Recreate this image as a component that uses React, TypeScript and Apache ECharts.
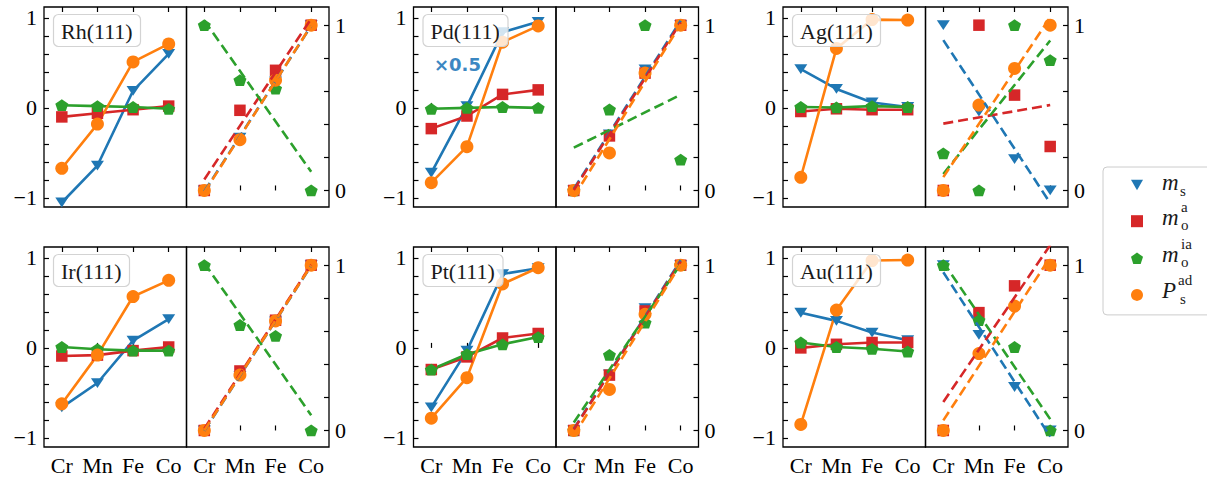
import React, { useEffect, useRef } from 'react';
import * as echarts from 'echarts';

// ---------------- data ----------------
const categories = ['Cr', 'Mn', 'Fe', 'Co'];
const surfaces = ['Rh(111)', 'Pd(111)', 'Ag(111)', 'Ir(111)', 'Pt(111)', 'Au(111)'];

const leftTicks = [-1, -0.8, -0.6, -0.4, -0.2, 0, 0.2, 0.4, 0.6, 0.8, 1];
const leftLabels = [-1, 0, 1];
const rightTicks = [0, 0.2, 0.4, 0.6, 0.8, 1];
const rightLabels = [0, 1];

// raw values (left sub-panels), order: Rh, Pd, Ag, Ir, Pt, Au
const msRaw = [
  [-1.05, -0.64, 0.19, 0.6],
  [-0.72, 0.02, 0.84, 0.955],
  [0.43, 0.21, 0.06, 0.01],
  [-0.66, -0.39, 0.08, 0.32],
  [-0.66, -0.03, 0.82, 0.885],
  [0.39, 0.3, 0.17, 0.085],
];
const moaRaw = [
  [-0.1, -0.06, -0.02, 0.02],
  [-0.23, -0.09, 0.15, 0.2],
  [-0.04, -0.01, -0.02, -0.02],
  [-0.09, -0.08, -0.03, 0.01],
  [-0.24, -0.1, 0.11, 0.16],
  [0.0, 0.04, 0.06, 0.06],
];
const moiaRaw = [
  [0.03, 0.02, 0.01, -0.01],
  [-0.01, 0.0, 0.01, 0.0],
  [0.01, 0.005, 0.02, 0.01],
  [0.01, -0.015, -0.03, -0.03],
  [-0.24, -0.07, 0.04, 0.12],
  [0.06, 0.01, -0.01, -0.04],
];
const psadRaw = [
  [-0.67, -0.18, 0.51, 0.71],
  [-0.83, -0.43, 0.73, 0.91],
  [-0.77, 0.66, 0.98, 0.975],
  [-0.62, -0.08, 0.57, 0.75],
  [-0.78, -0.33, 0.71, 0.89],
  [-0.85, 0.42, 0.97, 0.975],
];

// normalised values (right sub-panels)
const msNorm = [
  [0, 0.32, 0.66, 1],
  [0, 0.34, 0.733, 1],
  [1, 0.477, 0.19, 0],
  [0, 0.33, 0.66, 1],
  [0, 0.34, 0.74, 1],
  [1, 0.578, 0.263, 0],
];
const moaNorm = [
  [0, 0.485, 0.727, 1],
  [0, 0.33, 0.71, 1],
  [0, 1, 0.577, 0.266],
  [0, 0.36, 0.667, 1],
  [0, 0.335, 0.723, 1],
  [0, 0.713, 0.875, 1],
];
const moiaNorm = [
  [1, 0.667, 0.616, 0],
  [0, 0.49, 1, 0.186],
  [0.225, 0, 1, 0.789],
  [1, 0.638, 0.572, 0],
  [0, 0.457, 0.653, 1],
  [1, 0.667, 0.505, 0],
];
const psadNorm = [
  [0, 0.307, 0.667, 1],
  [0, 0.227, 0.71, 1],
  [0, 0.517, 0.738, 1],
  [0, 0.335, 0.663, 1],
  [0, 0.248, 0.703, 1],
  [0, 0.465, 0.753, 1],
];

// ---------------- helpers ----------------
function linearFit(ys: number[]): [number, number] {
  const n = ys.length;
  const mx = (n - 1) / 2;
  const my = ys.reduce((a, b) => a + b, 0) / n;
  let sxy = 0;
  let sxx = 0;
  ys.forEach((y, i) => {
    sxy += (i - mx) * (y - my);
    sxx += (i - mx) * (i - mx);
  });
  const slope = sxy / sxx;
  return [my - slope * mx, my + slope * (n - 1 - mx)];
}

const TRI = 'path://M0,0L100,0L50,86.6Z';
const PENT = 'path://M50,0L97.55,34.55L79.39,90.45L20.61,90.45L2.45,34.55Z';
const SERIF = '"Liberation Serif", serif';

const quantities = [
  { name: 'ms', raw: msRaw, norm: msNorm, color: '#1f77b4', symbol: TRI, size: [13, 11.3] },
  { name: 'moa', raw: moaRaw, norm: moaNorm, color: '#d62728', symbol: 'rect', size: 11.5 },
  { name: 'moia', raw: moiaRaw, norm: moiaNorm, color: '#2ca02c', symbol: PENT, size: [13, 12.4] },
  { name: 'Psad', raw: psadRaw, norm: psadNorm, color: '#ff7f0e', symbol: 'circle', size: 13 },
];

const fmt = (v: number) => (v < 0 ? '\u2212' + Math.abs(v) : String(v));

function buildOption() {
  const panelX0 = 44;
  const panelStep = 369.5;
  const subW = 142.5;
  const rowTop = [7, 247];
  const rowH = 200;

  const grid: any[] = [];
  const xAxis: any[] = [];
  const yAxis: any[] = [];
  const series: any[] = [];
  const title: any[] = [];

  surfaces.forEach((surf, p) => {
    const row = Math.floor(p / 3);
    const col = p % 3;
    const px = panelX0 + col * panelStep;
    const top = rowTop[row];

    title.push({
      text: surf,
      left: px + 9,
      top: top + 7,
      padding: [6, 8, 5, 8],
      backgroundColor: 'rgba(255,255,255,0.8)',
      borderColor: '#d3d3d3',
      borderWidth: 1.2,
      borderRadius: 5,
      textStyle: { fontFamily: SERIF, fontSize: 22, fontWeight: 'normal', color: '#1a1a1a' },
    });

    for (let side = 0; side < 2; side++) {
      const g = p * 2 + side;
      grid.push({
        left: px + side * subW,
        top,
        width: subW,
        height: rowH,
        show: true,
        borderColor: '#000',
        borderWidth: 1.3,
        backgroundColor: 'transparent',
        containLabel: false,
        outerBoundsMode: 'none',
      });
      const tickStyle = { color: '#000', width: 1.2 };
      xAxis.push({
        type: 'category',
        gridIndex: g,
        data: categories,
        position: 'bottom',
        boundaryGap: true,
        axisLine: { show: false },
        axisTick: { show: true, inside: true, alignWithLabel: true, interval: 0, length: 5, lineStyle: tickStyle },
        axisLabel: {
          show: row === 1,
          interval: 0,
          margin: 7,
          fontFamily: SERIF,
          fontSize: 22,
          color: '#000',
        },
        splitLine: { show: false },
      });
      xAxis.push({
        type: 'category',
        gridIndex: g,
        data: categories,
        position: 'top',
        boundaryGap: true,
        axisLine: { show: false },
        axisTick: { show: true, inside: true, alignWithLabel: true, interval: 0, length: 5, lineStyle: tickStyle },
        axisLabel: { show: false },
        splitLine: { show: false },
      });
      if (side === 0) {
        yAxis.push({
          type: 'value',
          gridIndex: g,
          position: 'left',
          min: -1.1,
          max: 1.12,
          axisLine: { show: false },
          axisTick: { show: true, inside: true, length: 5, lineStyle: tickStyle, customValues: leftTicks },
          axisLabel: {
            customValues: leftLabels,
            formatter: fmt,
            margin: 7,
            fontFamily: SERIF,
            fontSize: 22,
            color: '#000',
          },
          splitLine: { show: false },
        });
      } else {
        yAxis.push({
          type: 'value',
          gridIndex: g,
          position: 'right',
          min: -0.1,
          max: 1.11,
          axisLine: { show: false },
          axisTick: { show: true, inside: true, length: 5, lineStyle: tickStyle, customValues: rightTicks },
          axisLabel: {
            customValues: rightLabels,
            formatter: fmt,
            margin: 6,
            fontFamily: SERIF,
            fontSize: 22,
            color: '#000',
          },
          splitLine: { show: false },
        });
      }
    }

    const gL = p * 2;
    const gR = p * 2 + 1;
    quantities.forEach((q) => {
      series.push({
        name: q.name,
        type: 'line',
        xAxisIndex: gL * 2,
        yAxisIndex: gL,
        data: q.raw[p],
        symbol: q.symbol,
        symbolSize: q.size,
        symbolKeepAspect: true,
        showAllSymbol: true,
        color: q.color,
        itemStyle: { color: q.color, opacity: 1 },
        lineStyle: { color: q.color, width: 2.6 },
        emphasis: { disabled: true },
      });
    });
    quantities.forEach((q) => {
      const [a, b] = linearFit(q.norm[p]);
      series.push({
        name: q.name,
        type: 'scatter',
        xAxisIndex: gR * 2,
        yAxisIndex: gR,
        data: q.norm[p],
        symbol: q.symbol,
        symbolSize: q.size,
        symbolKeepAspect: true,
        color: q.color,
        itemStyle: { color: q.color, opacity: 1 },
        emphasis: { disabled: true },
      });
      series.push({
        name: q.name,
        type: 'line',
        xAxisIndex: gR * 2,
        yAxisIndex: gR,
        data: [
          [0, a],
          [categories.length - 1, b],
        ],
        symbol: 'none',
        clip: true,
        color: q.color,
        lineStyle: { color: q.color, width: 2.6, type: [10, 5] },
        emphasis: { disabled: true },
      });
    });
  });

  const legendText = (left: number, top: number, text: string, size: number, italic: boolean) => ({
    type: 'text',
    left,
    top,
    z: 100,
    style: {
      text,
      fontFamily: SERIF,
      fontSize: size,
      fontStyle: italic ? 'italic' : 'normal',
      fill: '#1a1a1a',
    },
  });

  const graphic: any[] = [
    // m_s
    legendText(1162, 171, 'm', 23, true),
    legendText(1180, 183, 's', 15, false),
    // m_o^a
    legendText(1162, 206, 'm', 23, true),
    legendText(1181, 199, 'a', 15, false),
    legendText(1181, 217, 'o', 15, false),
    // m_o^ia
    legendText(1162, 243, 'm', 23, true),
    legendText(1181, 236, 'ia', 15, false),
    legendText(1181, 254, 'o', 15, false),
    // P_s^ad
    legendText(1162, 279, 'P', 23, true),
    legendText(1178, 272, 'ad', 15, false),
    legendText(1180, 291, 's', 15, false),
    // x0.5 annotation in Pd panel
    {
      type: 'text',
      left: 434,
      top: 55,
      z: 100,
      style: {
        text: '\u00d70.5',
        fontFamily: '"DejaVu Sans", sans-serif',
        fontSize: 18,
        fontWeight: 'bold',
        fill: '#3b87c2',
      },
    },
  ];

  return {
    animation: false,
    backgroundColor: '#fff',
    title,
    grid,
    xAxis,
    yAxis,
    series,
    graphic,
    legend: {
      orient: 'vertical',
      left: 1103,
      top: 167,
      itemWidth: 12,
      itemHeight: 12,
      itemGap: 25,
      padding: [12, 70, 14, 28],
      backgroundColor: '#fff',
      borderColor: '#cccccc',
      borderWidth: 1,
      borderRadius: 4,
      formatter: () => '',
      textStyle: { fontSize: 12 },
      data: [
        { name: 'ms', icon: TRI },
        { name: 'moa', icon: 'rect' },
        { name: 'moia', icon: PENT },
        { name: 'Psad', icon: 'circle' },
      ],
    },
  };
}

export default function App() {
  const ref = useRef<HTMLDivElement>(null);
  useEffect(() => {
    document.body.style.margin = '0';
    if (!ref.current) return;
    const chart = echarts.init(ref.current, undefined, { renderer: 'svg' });
    chart.setOption(buildOption() as any);
    return () => chart.dispose();
  }, []);
  return <div ref={ref} style={{ width: 1207, height: 478 }} />;
}
